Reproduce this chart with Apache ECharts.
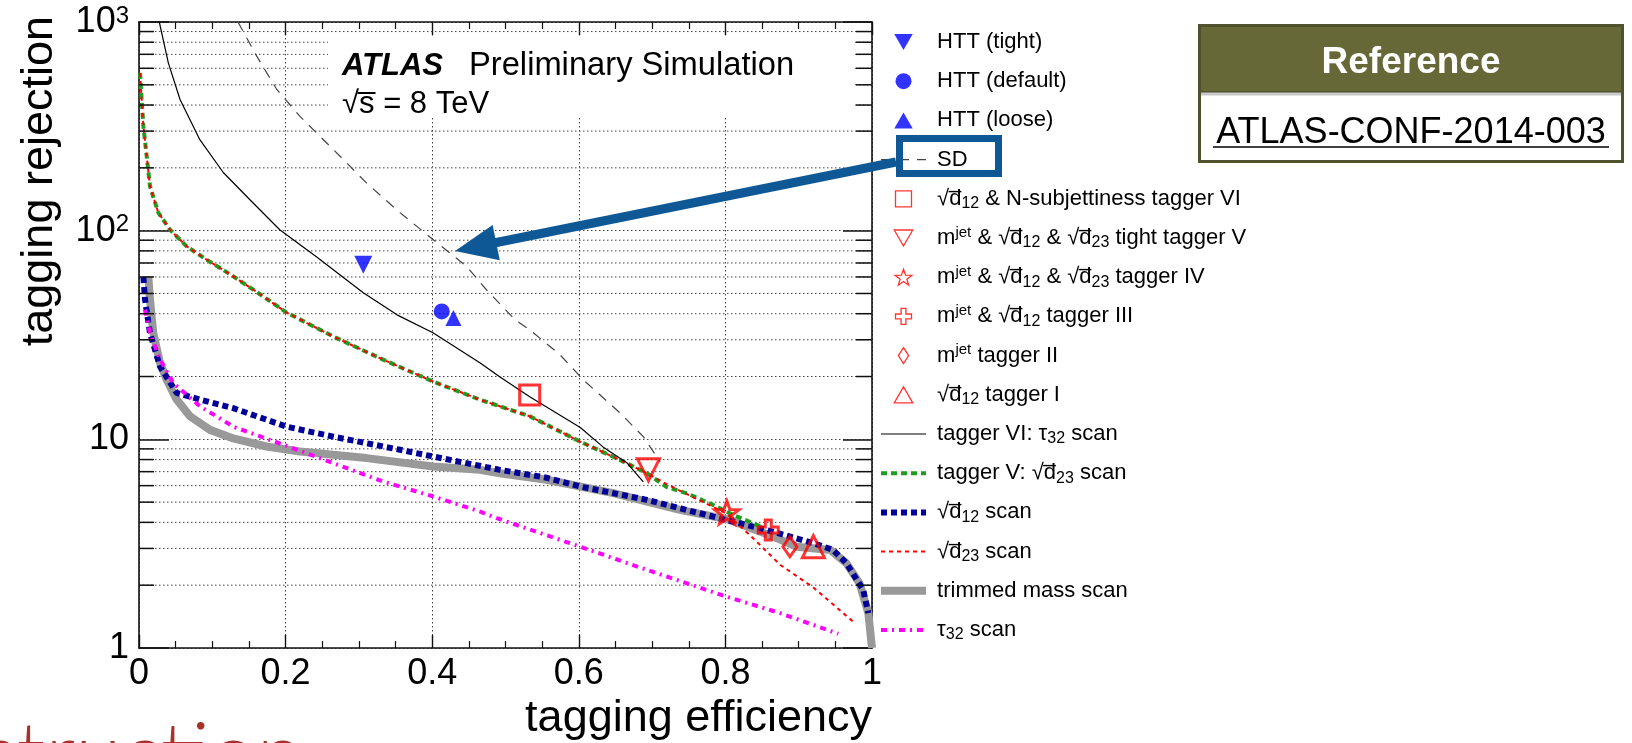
<!DOCTYPE html>
<html>
<head>
<meta charset="utf-8">
<script src="https://cdn.jsdelivr.net/npm/echarts@6/dist/echarts.min.js"></script>
<style>
  html, body { margin: 0; padding: 0; background: #ffffff; }
  #chart { width: 1632px; height: 743px; }
</style>
</head>
<body>
<div id="chart"></div>
<script>
// Top-tagging performance: background rejection vs signal efficiency

// Axis ticks
const xTickStep = 0.2;
const yMinorGrid = [2, 3, 4, 5, 6, 7, 8, 9, 20, 30, 40, 50, 60, 70, 80, 90, 200, 300, 400, 500, 600, 700, 800, 900];

// Working points (efficiency, rejection)
const httTight = [[0.306, 68.7]];
const httDefault = [[0.413, 41.0]];
const httLoose = [[0.429, 38.1]];
const taggerVI = [[0.533, 16.3]];
const taggerV = [[0.695, 7.14]];
const taggerIV = [[0.802, 4.46]];
const taggerIII = [[0.8585, 3.68]];
const taggerII = [[0.888, 3.06]];
const taggerI = [[0.92, 3.06]];

// Scans (efficiency, rejection)
const sdScan = [[0.135, 1000], [0.1606, 686], [0.188, 475], [0.2196, 353], [0.265, 245], [0.3106, 169], [0.356, 122],
  [0.4015, 90.5], [0.447, 67.4], [0.474, 52.1], [0.513, 37.4], [0.533, 33.5], [0.574, 25.5], [0.606, 19.3],
  [0.656, 13.4], [0.688, 10.3], [0.711, 7.8]];
const tau32TaggerScan = [[0.0277, 1000], [0.040, 637], [0.056, 425], [0.083, 273], [0.115, 190], [0.151, 141],
  [0.192, 101], [0.242, 75], [0.306, 50.4], [0.352, 39.5], [0.401, 32.4], [0.465, 23.3], [0.4925, 19.9],
  [0.533, 16.0], [0.602, 11.4], [0.633, 9.2], [0.666, 7.7], [0.688, 6.25]];
const d23TaggerScan = [[0.0014, 570], [0.0036, 425], [0.006, 316], [0.0105, 227], [0.015, 163], [0.0263, 122],
  [0.0423, 101], [0.065, 84.1], [0.0923, 72.6], [0.1287, 60.4], [0.16, 51], [0.2015, 40.5], [0.265, 31.1],
  [0.333, 24.1], [0.4015, 18.9], [0.465, 15.5], [0.533, 12.9], [0.6016, 9.76], [0.656, 7.97], [0.693, 6.88],
  [0.72, 5.9], [0.748, 5.5], [0.783, 4.85], [0.81, 4.35], [0.85, 3.8]];
const d23Scan = [[0.0014, 570], [0.0036, 425], [0.006, 316], [0.0105, 227], [0.015, 163], [0.0263, 122],
  [0.0423, 101], [0.065, 84.1], [0.0923, 72.6], [0.1287, 60.4], [0.16, 51], [0.2015, 40.5], [0.265, 31.1],
  [0.333, 24.1], [0.4015, 18.9], [0.465, 15.5], [0.533, 12.9], [0.6016, 9.76], [0.656, 7.97], [0.693, 6.88],
  [0.72, 6.1], [0.76, 5.2], [0.802, 4.4], [0.84, 3.3], [0.875, 2.5], [0.92, 1.95], [0.974, 1.34]];
const d12Scan = [[0.006, 60], [0.0082, 46.7], [0.015, 32.3], [0.0287, 22.3], [0.0514, 16.7], [0.0832, 15.5],
  [0.1287, 14.1], [0.2015, 11.5], [0.265, 10.3], [0.356, 8.91], [0.4015, 8.27], [0.4925, 7.14], [0.556, 6.55],
  [0.6016, 5.94], [0.6926, 5.13], [0.7835, 4.26], [0.856, 3.68], [0.92, 3.18], [0.947, 2.95], [0.965, 2.55],
  [0.988, 1.9], [0.995, 1.47]];
const trimmedMassScan = [[0.0127, 60.4], [0.015, 46.7], [0.0195, 32.3], [0.0287, 23.2], [0.0378, 19.3],
  [0.0514, 15.5], [0.0696, 12.9], [0.0969, 11.1], [0.1287, 10.1], [0.174, 9.24], [0.2196, 8.74], [0.3106, 8.13],
  [0.4015, 7.41], [0.465, 7.14], [0.4925, 6.88], [0.556, 6.4], [0.647, 5.52], [0.738, 4.59], [0.806, 4.11],
  [0.865, 3.42], [0.897, 3.06], [0.943, 2.95], [0.965, 2.55], [0.983, 2.04], [0.995, 1.47], [1.0, 1.0]];
const tau32Scan = [[0.0082, 41.8], [0.015, 32.3], [0.0287, 24.1], [0.0468, 18.6], [0.0832, 14.4], [0.1287, 11.5],
  [0.197, 9.42], [0.265, 7.69], [0.333, 6.28], [0.4015, 5.32], [0.465, 4.51], [0.488, 4.19], [0.6016, 3.06],
  [0.6926, 2.37], [0.802, 1.76], [0.8745, 1.47], [0.954, 1.17]];

// Legend entries, in drawing order
const legendOrder = ['HTT (tight)', 'HTT (default)', 'HTT (loose)', 'SD', 'tagger VI', 'tagger V', 'tagger IV',
  'tagger III', 'tagger II', 'tagger I', 'tagger VI: τ32 scan', 'tagger V: √d23 scan', '√d12 scan', '√d23 scan',
  'trimmed mass scan', 'τ32 scan'];
const D12 = '√{ol|d̅}{sub|12}';
const D23 = '√{ol|d̅}{sub|23}';
const legendLabels = {
  'HTT (tight)': 'HTT (tight)',
  'HTT (default)': 'HTT (default)',
  'HTT (loose)': 'HTT (loose)',
  'SD': 'SD',
  'tagger VI': D12 + ' & N-subjettiness tagger VI',
  'tagger V': 'm{sup|jet} & ' + D12 + ' & ' + D23 + ' tight tagger V',
  'tagger IV': 'm{sup|jet} & ' + D12 + ' & ' + D23 + ' tagger IV',
  'tagger III': 'm{sup|jet} & ' + D12 + ' tagger III',
  'tagger II': 'm{sup|jet} tagger II',
  'tagger I': D12 + ' tagger I',
  'tagger VI: τ32 scan': 'tagger VI: τ{sub|32} scan',
  'tagger V: √d23 scan': 'tagger V: ' + D23 + ' scan',
  '√d12 scan': D12 + ' scan',
  '√d23 scan': D23 + ' scan',
  'trimmed mass scan': 'trimmed mass scan',
  'τ32 scan': 'τ{sub|32} scan'
};

const FONT = '"Liberation Sans", Arial, Helvetica, sans-serif';
const STAR = 'path://M50 0L61.8 33.8L97.6 34.5L69 56.2L79.4 90.5L50 70L20.6 90.5L31 56.2L2.4 34.5L38.2 33.8Z';
const OPEN_CROSS = 'path://M35 0H65V35H100V65H65V100H35V65H0V35H35Z';
const SQUARE = 'path://M0 0H100V100H0Z';
const TRI_DOWN = 'path://M0 0L100 0L50 86.6Z';
const TRI_UP = 'path://M50 0L100 86.6L0 86.6Z';
const NARROW_DIAMOND = 'path://M50 0L82 50L50 100L18 50Z';
const ARROW_BLUE = '#0E5896';

// legend icons for the working points; scans use their own line style
const legendIcons = {
  'HTT (tight)': TRI_DOWN, 'HTT (default)': 'circle', 'HTT (loose)': TRI_UP,
  'tagger VI': SQUARE, 'tagger V': TRI_DOWN, 'tagger IV': STAR, 'tagger III': OPEN_CROSS,
  'tagger II': NARROW_DIAMOND, 'tagger I': TRI_UP
};
const legendData = legendOrder.map(name => legendIcons[name]
  ? { name, icon: legendIcons[name] }
  : { name, itemStyle: { opacity: 0, color: 'rgba(0,0,0,0)', borderWidth: 0 } });

function scan(name, data, color, width, dash, z) {
  return {
    name, type: 'line', data, symbol: 'none', showSymbol: false, z,
    itemStyle: { color },
    lineStyle: { color, width, type: dash, cap: 'butt' },
    emphasis: { disabled: true }, silent: true
  };
}
function point(name, data, symbol, size, rotate, color, filled) {
  return {
    name, type: 'scatter', data, symbol, symbolSize: size, symbolRotate: rotate, symbolKeepAspect: true, z: 12,
    itemStyle: filled ? { color } : { color: 'rgba(0,0,0,0)', borderColor: color, borderWidth: 3 },
    emphasis: { disabled: true }, silent: true
  };
}

const chart = echarts.init(document.getElementById('chart'), null, { renderer: 'canvas' });

const option = {
  animation: false,
  backgroundColor: '#ffffff',
  textStyle: { fontFamily: FONT },
  grid: { left: 139, top: 22, width: 733, height: 626, containLabel: false },
  xAxis: [{
    type: 'value', min: 0, max: 1, interval: xTickStep, position: 'bottom',
    axisLine: { show: true, onZero: false, lineStyle: { color: '#111', width: 1.6 } },
    axisTick: { show: true, inside: true, length: 13, lineStyle: { color: '#111', width: 1.4 } },
    minorTick: { show: true, splitNumber: 4, length: 7, lineStyle: { color: '#111', width: 1.2 } },
    splitLine: { show: true, lineStyle: { color: '#444', width: 1, type: [1.5, 2.5] } },
    axisLabel: { show: true, margin: 8, fontSize: 36, color: '#000', fontFamily: FONT,
      showMinLabel: true, showMaxLabel: true }
  }, {
    type: 'value', min: 0, max: 1, interval: xTickStep, position: 'top',
    axisLine: { show: true, onZero: false, lineStyle: { color: '#111', width: 1.6 } },
    axisTick: { show: true, inside: true, length: 13, lineStyle: { color: '#111', width: 1.4 } },
    minorTick: { show: true, splitNumber: 4, length: 7, lineStyle: { color: '#111', width: 1.2 } },
    splitLine: { show: false }, axisLabel: { show: false }
  }],
  yAxis: [{
    type: 'log', logBase: 10, min: 1, max: 1000, position: 'left',
    axisLine: { show: true, onZero: false, lineStyle: { color: '#111', width: 1.6 } },
    axisTick: { show: true, inside: true, length: 30, lineStyle: { color: '#111', width: 1.5 } },
    splitLine: { show: true, lineStyle: { color: '#444', width: 1, type: [1.5, 2.5] } },
    axisLabel: {
      show: true, margin: 10, fontSize: 36, color: '#000', fontFamily: FONT,
      showMinLabel: true, showMaxLabel: true,
      formatter: v => v >= 100 ? '{b|10}{s|' + Math.round(Math.log10(v)) + '}' : String(Math.round(v)),
      rich: {
        b: { fontSize: 36, lineHeight: 36, fontFamily: FONT, color: '#000' },
        s: { fontSize: 24, lineHeight: 18, verticalAlign: 'top', fontFamily: FONT, color: '#000' }
      }
    }
  }, {
    type: 'log', logBase: 10, min: 1, max: 1000, position: 'right',
    axisLine: { show: true, onZero: false, lineStyle: { color: '#111', width: 1.6 } },
    axisTick: { show: true, inside: true, length: 29, lineStyle: { color: '#111', width: 1.5 } },
    splitLine: { show: false }, axisLabel: { show: false }
  }],
  legend: {
    orient: 'vertical', left: 877, top: 29, padding: 0, itemGap: 13.2,
    itemWidth: 45, itemHeight: 16, selectedMode: false, symbolKeepAspect: true,
    data: legendData,
    itemStyle: { borderWidth: 1.3 },
    lineStyle: { width: 'inherit', type: 'inherit' },
    formatter: name => ' ' + legendLabels[name],
    textStyle: {
      fontSize: 22, lineHeight: 26, color: '#000', fontFamily: FONT,
      rich: {
        ol: { fontSize: 22, lineHeight: 26, fontFamily: FONT, color: '#000' },
        sub: { fontSize: 16, lineHeight: 2, verticalAlign: 'bottom', fontFamily: FONT, color: '#000' },
        sup: { fontSize: 15, lineHeight: 8, verticalAlign: 'top', fontFamily: FONT, color: '#000' }
      }
    }
  },
  series: [
    {
      name: 'minor grid', type: 'custom', silent: true, z: 1,
      data: yMinorGrid.map(v => [0, v]), encode: { x: 0, y: 1 },
      renderItem: (params, api) => {
        const v = api.value(1);
        const a = api.coord([0, v]);
        const b = api.coord([1, v]);
        return { type: 'line', shape: { x1: a[0], y1: a[1], x2: b[0], y2: b[1] },
          style: { stroke: '#444', lineWidth: 1, lineDash: [1.5, 2.5] } };
      }
    },
    {
      name: 'minor ticks', type: 'custom', silent: true, z: 14,
      data: yMinorGrid.map(v => [0, v]), encode: { x: 0, y: 1 },
      renderItem: (params, api) => {
        const v = api.value(1);
        const a = api.coord([0, v]);
        const b = api.coord([1, v]);
        return { type: 'group', children: [
          { type: 'line', shape: { x1: a[0], y1: a[1], x2: a[0] + 15, y2: a[1] }, style: { stroke: '#111', lineWidth: 1.5 } },
          { type: 'line', shape: { x1: b[0] - 16, y1: b[1], x2: b[0], y2: b[1] }, style: { stroke: '#111', lineWidth: 1.5 } }
        ] };
      }
    },
    scan('trimmed mass scan', trimmedMassScan, '#999999', 8, 'solid', 4),
    scan('√d12 scan', d12Scan, '#000099', 6, [6, 4], 5),
    scan('τ32 scan', tau32Scan, '#FF00FF', 4, [6, 5, 2, 5], 5),
    scan('tagger V: √d23 scan', d23TaggerScan, '#1E9E1E', 4, [6, 4], 6),
    scan('√d23 scan', d23Scan, '#FF0000', 2, [4, 4], 7),
    scan('tagger VI: τ32 scan', tau32TaggerScan, '#000000', 1.2, 'solid', 8),
    scan('SD', sdScan, '#444444', 1.2, [10, 8], 8),
    point('HTT (tight)', httTight, 'triangle', 18, 180, '#0000FF', true),
    point('HTT (default)', httDefault, 'circle', 16, 0, '#0000FF', true),
    point('HTT (loose)', httLoose, 'triangle', 16, 0, '#0000FF', true),
    point('tagger VI', taggerVI, 'rect', 20, 0, '#FF0000', false),
    point('tagger V', taggerV, 'triangle', 22, 180, '#FF0000', false),
    point('tagger IV', taggerIV, STAR, 24, 0, '#FF0000', false),
    point('tagger III', taggerIII, OPEN_CROSS, 20, 0, '#FF0000', false),
    point('tagger II', taggerII, 'diamond', [14, 20], 0, '#FF0000', false),
    point('tagger I', taggerI, 'triangle', 22, 0, '#FF0000', false)
  ],
  graphic: { elements: [
    // white panel behind the experiment label
    { type: 'rect', z: 3, silent: true, shape: { x: 328, y: 36, width: 527, height: 82 }, style: { fill: '#ffffff' } },
    { type: 'text', z: 20, x: 342, y: 66, silent: true, style: {
      text: 'ATLAS', fontSize: 31, fontFamily: FONT, fontStyle: 'italic', fontWeight: 'bold',
      fill: '#000', verticalAlign: 'middle' } },
    { type: 'text', z: 20, x: 469, y: 66, silent: true, style: {
      text: 'Preliminary Simulation', fontSize: 32.7, fontFamily: FONT, fill: '#000', verticalAlign: 'middle' } },
    { type: 'text', z: 20, x: 342, y: 104, silent: true, style: {
      text: '√s̅ = 8 TeV', fontSize: 31, fontFamily: FONT, fill: '#000', verticalAlign: 'middle' } },
    // axis titles
    { type: 'text', z: 20, x: 872, y: 741, silent: true, style: {
      text: 'tagging efficiency', fontSize: 45, fontFamily: FONT, fill: '#000', align: 'right', verticalAlign: 'bottom' } },
    { type: 'text', z: 20, x: 40, y: 16, rotation: Math.PI / 2, silent: true, style: {
      text: 'tagging rejection', fontSize: 45, fontFamily: FONT, fill: '#000', align: 'right', verticalAlign: 'middle' } },
    // slide footer word
    { type: 'text', z: 20, x: 303, y: 798, silent: true, style: {
      text: 'Reconstruction', fontSize: 84, fontFamily: 'Lato, "Open Sans", sans-serif', fontWeight: 300,
      fill: '#A8322A', align: 'right', verticalAlign: 'bottom' } },
    // reference box
    { type: 'rect', z: 20, silent: true, shape: { x: 1199.5, y: 25.5, width: 423, height: 136 },
      style: { fill: '#ffffff', stroke: '#50522E', lineWidth: 3 } },
    { type: 'rect', z: 21, silent: true, shape: { x: 1199.5, y: 25.5, width: 423, height: 67 },
      style: { fill: '#666838', stroke: '#50522E', lineWidth: 3 } },
    { type: 'line', z: 21, silent: true, shape: { x1: 1201, y1: 94, x2: 1621, y2: 94 },
      style: { stroke: '#C8C8C8', lineWidth: 3 } },
    { type: 'text', z: 22, x: 1411, y: 63, silent: true, style: {
      text: 'Reference', fontSize: 37, fontWeight: 'bold', fontFamily: FONT, fill: '#ffffff', align: 'center', verticalAlign: 'middle' } },
    { type: 'text', z: 22, x: 1411, y: 133, silent: true, style: {
      text: 'ATLAS-CONF-2014-003', fontSize: 36, fontFamily: FONT, fill: '#000', align: 'center', verticalAlign: 'middle' } },
    { type: 'line', z: 22, silent: true, shape: { x1: 1213, y1: 147, x2: 1609, y2: 147 },
      style: { stroke: '#000', lineWidth: 1.5 } },
    // highlight of the SD entry and pointer to its curve
    { type: 'rect', z: 30, silent: true, shape: { x: 899.5, y: 138.5, width: 99, height: 35 },
      style: { fill: null, stroke: ARROW_BLUE, lineWidth: 7 } },
    { type: 'line', z: 30, silent: true, shape: { x1: 896, y1: 162, x2: 494, y2: 243 },
      style: { stroke: ARROW_BLUE, lineWidth: 9 } },
    { type: 'polygon', z: 30, silent: true, shape: { points: [[455, 251], [492.6, 225.1], [499.8, 260.3]] },
      style: { fill: ARROW_BLUE } }
  ] }
};

chart.setOption(option);
</script>
</body>
</html>
